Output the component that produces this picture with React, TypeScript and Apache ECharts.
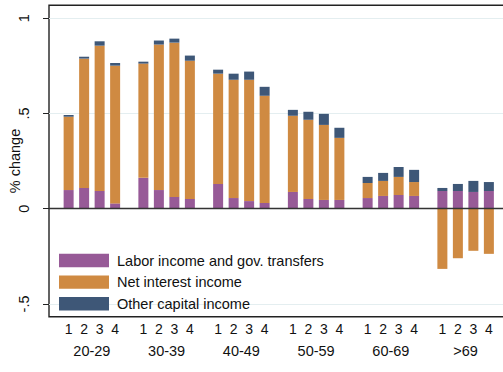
import React, { useEffect, useRef } from "react";
import * as echarts from "echarts";

const ageGroups = ["20-29", "30-39", "40-49", "50-59", "60-69", ">69"];
const quartiles = ["1", "2", "3", "4"];
const seriesNames = [
  "Labor income and gov. transfers",
  "Net interest income",
  "Other capital income",
];
// rows: age groups, columns: income quartiles 1-4
const laborIncome = [
  [0.098, 0.109, 0.093, 0.028],
  [0.162, 0.098, 0.062, 0.051],
  [0.13, 0.056, 0.04, 0.03],
  [0.088, 0.051, 0.046, 0.046],
  [0.056, 0.067, 0.072, 0.067],
  [0.093, 0.093, 0.088, 0.093],
];
const netInterest = [
  [0.385, 0.679, 0.763, 0.723],
  [0.6, 0.764, 0.81, 0.726],
  [0.579, 0.621, 0.637, 0.563],
  [0.4, 0.416, 0.394, 0.326],
  [0.079, 0.079, 0.095, 0.073],
  [-0.316, -0.26, -0.221, -0.237],
];
const otherCapital = [
  [0.009, 0.01, 0.023, 0.014],
  [0.01, 0.021, 0.021, 0.027],
  [0.021, 0.032, 0.043, 0.047],
  [0.031, 0.042, 0.058, 0.053],
  [0.032, 0.042, 0.052, 0.064],
  [0.016, 0.037, 0.058, 0.047],
];
const yTicks = [-0.5, 0, 0.5, 1];
const yTickLabels = ["-.5", "0", ".5", "1"];
const yMin = -0.567;
const yMax = 1.068;

const colors = ["#975a97", "#cf8a42", "#3e5777"];
const FONT = "'Liberation Sans', Arial, Helvetica, sans-serif";

export default function App() {
  const ref = useRef<HTMLDivElement>(null);
  useEffect(() => {
    document.body.style.margin = "0";
    const chart = echarts.init(ref.current!, null, { renderer: "svg" });
    const valueSets = [laborIncome, netInterest, otherCapital];
    const barSeries: any[] = [];
    quartiles.forEach((qLabel, q) => {
      valueSets.forEach((vals, s) => {
        barSeries.push({
          type: "bar",
          name: seriesNames[s],
          xAxisIndex: 1,
          yAxisIndex: 1,
          stack: "q" + q,
          barWidth: 10,
          barGap: "55%",
          z: 3,
          data: ageGroups.map((_, g) => vals[g][q]),
          itemStyle: { color: colors[s] },
          label:
            s === 0
              ? {
                  show: true,
                  position: "bottom",
                  distance: 113,
                  formatter: () => qLabel,
                  fontSize: 14,
                  fontFamily: FONT,
                  color: "#111",
                }
              : { show: false },
        });
      });
    });

    const option: any = {
      animation: false,
      backgroundColor: "#ffffff",
      textStyle: { fontFamily: FONT },
      grid: [
        {
          left: 49,
          top: 5.3,
          right: -4,
          bottom: 55.3,
          outerBoundsMode: "none",
          containLabel: false,
          show: true,
          borderColor: "#222",
          borderWidth: 1.4,
          backgroundColor: "transparent",
        },
        {
          left: 54.5,
          top: 5.3,
          right: 0,
          bottom: 55.3,
          outerBoundsMode: "none",
          containLabel: false,
        },
      ],
      xAxis: [
        { gridIndex: 0, type: "value", min: 0, max: 1, show: false },
        {
          gridIndex: 1,
          type: "category",
          data: ageGroups,
          axisLine: { show: false },
          axisTick: { show: false },
          axisLabel: {
            margin: 27,
            fontSize: 14.5,
            color: "#111",
            fontFamily: FONT,
          },
        },
      ],
      yAxis: [
        {
          gridIndex: 0,
          type: "value",
          min: yMin,
          max: yMax,
          name: "% change",
          nameLocation: "middle",
          nameGap: 27,
          nameMoveOverlap: false,
          nameTextStyle: { fontSize: 14.5, color: "#111", fontFamily: FONT },
          axisLine: { show: false },
          axisTick: {
            show: true,
            length: 6,
            customValues: yTicks,
            lineStyle: { color: "#222", width: 1 },
          },
          axisLabel: {
            customValues: yTicks,
            rotate: 90,
            margin: 18,
            fontSize: 14.5,
            color: "#111",
            fontFamily: FONT,
            formatter: (v: number) => {
              const i = yTicks.findIndex((t) => Math.abs(t - v) < 1e-6);
              return i >= 0 ? yTickLabels[i] : "";
            },
          },
          splitLine: { show: false },
        },
        {
          gridIndex: 1,
          type: "value",
          min: yMin,
          max: yMax,
          show: false,
          splitLine: { show: false },
        },
      ],
      legend: {
        data: seriesNames,
        orient: "vertical",
        left: 59,
        top: 253,
        padding: 0,
        icon: "rect",
        itemWidth: 50,
        itemHeight: 13.4,
        itemGap: 6.6,
        selectedMode: false,
        textStyle: {
          fontSize: 14.5,
          color: "#111",
          fontFamily: FONT,
          padding: [0, 0, 0, 3],
        },
      },
      series: [
        {
          type: "line",
          xAxisIndex: 0,
          yAxisIndex: 0,
          data: [],
          silent: true,
          markLine: {
            silent: true,
            z: 1,
            symbol: ["none", "none"],
            label: { show: false },
            lineStyle: { color: "#e4eef0", width: 1, type: "solid" },
            data: yTicks.filter((v) => v !== 0).map((v) => ({ yAxis: v })),
          },
        },
        {
          type: "line",
          xAxisIndex: 0,
          yAxisIndex: 0,
          data: [],
          silent: true,
          z: 10,
          markLine: {
            silent: true,
            z: 10,
            symbol: ["none", "none"],
            label: { show: false },
            lineStyle: { color: "#333", width: 1.4, type: "solid" },
            data: [{ yAxis: 0 }],
          },
        },
        ...barSeries,
      ],
    };
    chart.setOption(option);
    return () => chart.dispose();
  }, []);
  return <div ref={ref} style={{ width: 503, height: 372 }} />;
}
